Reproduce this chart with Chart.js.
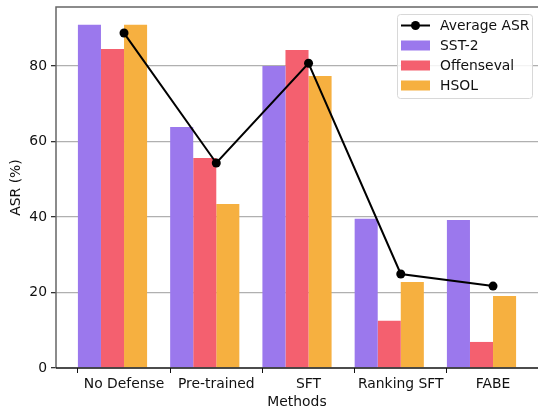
<!DOCTYPE html>
<html>
<head>
<meta charset="utf-8">
<script src="https://cdn.jsdelivr.net/npm/chart.js@4.4.0/dist/chart.umd.min.js"></script>
<style>
  html, body { margin: 0; padding: 0; background: #fff; }
  #wrap { width: 538px; height: 409px; }
</style>
</head>
<body>
<div id="wrap"><canvas id="chart" width="538" height="409"></canvas></div>
<script>
// values
const methods = ["No Defense", "Pre-trained", "SFT", "Ranking SFT", "FABE"];
const sst2 = [90.9, 63.8, 80.0, 39.5, 39.2];
const offenseval = [84.5, 55.6, 84.2, 12.5, 6.9];
const hsol = [90.9, 43.4, 77.3, 22.8, 19.1];
const averageAsr = [88.7, 54.3, 80.7, 24.9, 21.7];
const yTicks = [0, 20, 40, 60, 80];

const FONT = "'DejaVu Sans', sans-serif";
const FSIZE = 13.9;

// bars grouped around the red bar, which sits half a bar left of the tick
const barWidth = 0.25;
const toBars = (vals) => vals.map((v, i) => ({ x: i - barWidth / 2, y: v }));
const toPoints = (vals) => vals.map((v, i) => ({ x: i, y: v }));

// matplotlib-like frame: grey top/left spines, black bottom spine
const framePlugin = {
  id: "frame",
  afterDraw(chart) {
    const { ctx, chartArea: a } = chart;
    ctx.save();
    ctx.strokeStyle = "#666";
    ctx.lineWidth = 1.5;
    ctx.beginPath();
    ctx.moveTo(a.left, a.bottom);
    ctx.lineTo(a.left, a.top);
    ctx.lineTo(a.right, a.top);
    ctx.stroke();
    ctx.strokeStyle = "#111";
    ctx.beginPath();
    ctx.moveTo(a.left, a.bottom);
    ctx.lineTo(a.right, a.bottom);
    ctx.stroke();
    ctx.restore();
  }
};

// legend box in the top right corner of the plot
const legendPlugin = {
  id: "boxLegend",
  afterDraw(chart) {
    const { ctx } = chart;
    const x0 = 397, y0 = 14, w = 135, h = 84;
    ctx.save();
    ctx.fillStyle = "rgba(255,255,255,0.85)";
    ctx.strokeStyle = "#d8d8d8";
    ctx.lineWidth = 1;
    ctx.beginPath();
    ctx.roundRect(x0 + 0.5, y0 + 0.5, w, h, 3);
    ctx.fill();
    ctx.stroke();
    ctx.font = FSIZE + "px " + FONT;
    ctx.textBaseline = "middle";
    const order = [3, 0, 1, 2];
    order.forEach((di, k) => {
      const ds = chart.data.datasets[di];
      const cy = 25.5 + k * 20;
      if (ds.type === "line") {
        ctx.strokeStyle = "#000";
        ctx.lineWidth = 2;
        ctx.beginPath();
        ctx.moveTo(401, cy);
        ctx.lineTo(430, cy);
        ctx.stroke();
        ctx.fillStyle = "#000";
        ctx.beginPath();
        ctx.arc(415.5, cy, 4.5, 0, Math.PI * 2);
        ctx.fill();
      } else {
        ctx.fillStyle = ds.backgroundColor;
        ctx.fillRect(401, cy - 5, 29, 10);
      }
      ctx.fillStyle = "#111";
      ctx.fillText(ds.label, 440, cy + 1);
    });
    ctx.restore();
  }
};

const noPad = (scale) => {
  scale.paddingTop = 0;
  scale.paddingBottom = 0;
  scale.paddingLeft = 0;
  scale.paddingRight = 0;
};

new Chart(document.getElementById("chart"), {
  data: {
    datasets: [
      { type: "bar", label: "SST-2", data: toBars(sst2), backgroundColor: "#9b78ed", order: 2 },
      { type: "bar", label: "Offenseval", data: toBars(offenseval), backgroundColor: "#f4606f", order: 2 },
      { type: "bar", label: "HSOL", data: toBars(hsol), backgroundColor: "#f6b040", order: 2 },
      {
        type: "line", label: "Average ASR", data: toPoints(averageAsr),
        borderColor: "#000", backgroundColor: "#000", borderWidth: 2,
        pointRadius: 4.5, pointHoverRadius: 4.5, pointBorderWidth: 0, tension: 0, order: 1
      }
    ]
  },
  options: {
    responsive: false,
    animation: false,
    events: [],
    layout: { autoPadding: false, padding: { top: 7, right: 0, left: 0, bottom: 0 } },
    datasets: { bar: { categoryPercentage: 0.75, barPercentage: 1, borderWidth: 0 } },
    plugins: { legend: { display: false }, tooltip: { enabled: false } },
    scales: {
      x: {
        type: "linear",
        offset: false,
        min: -0.7375,
        max: 4.4875,
        afterBuildTicks: (scale) => { scale.ticks = methods.map((m, i) => ({ value: i })); },
        ticks: {
          autoSkip: false,
          maxRotation: 0,
          padding: 3,
          color: "#111",
          font: { family: FONT, size: FSIZE },
          callback: (v) => methods[v] ?? ""
        },
        grid: { display: true, drawOnChartArea: false, drawTicks: true, tickLength: 5, color: "#111", lineWidth: 1 },
        border: { display: false },
        title: { display: true, text: "Methods", color: "#111", font: { family: FONT, size: FSIZE }, padding: { top: 0, bottom: -2 } },
        afterFit: (scale) => { scale.height = 41; noPad(scale); }
      },
      y: {
        min: 0,
        max: 95.6,
        afterBuildTicks: (scale) => { scale.ticks = yTicks.map((v) => ({ value: v })); },
        ticks: { padding: 4, color: "#111", font: { family: FONT, size: FSIZE } },
        grid: {
          color: (c) => (c.tick && c.tick.value > 0 ? "#b0b0b0" : "rgba(0,0,0,0)"),
          lineWidth: 1.3,
          tickColor: "#333",
          tickLength: 5
        },
        border: { display: false },
        title: { display: true, text: "ASR (%)", color: "#111", font: { family: FONT, size: FSIZE }, padding: { top: 8, bottom: 0 } },
        afterFit: (scale) => { scale.width = 56; noPad(scale); }
      }
    }
  },
  plugins: [framePlugin, legendPlugin]
});
</script>
</body>
</html>
